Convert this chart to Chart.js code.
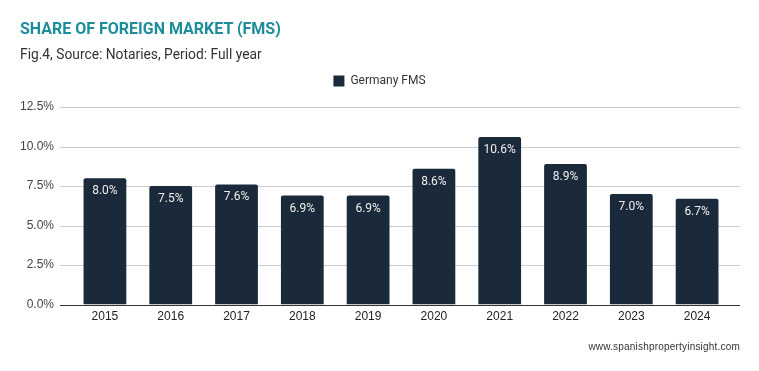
<!DOCTYPE html>
<html>
<head>
<meta charset="utf-8">
<script src="https://cdn.jsdelivr.net/npm/chart.js@4.4.0/dist/chart.umd.min.js"></script>
<style>
  body { margin: 0; background: #fff; }
  #wrap { position: relative; width: 759px; height: 371px; overflow: hidden; }
  #chart { position: absolute; left: 0; top: 0; }
  .title { position: absolute; left: 20px; top: 19px; font: bold 16px Roboto, sans-serif; color: #1e8d9b; }
  .sub { position: absolute; left: 20px; top: 46px; font: 13.8px Roboto, sans-serif; color: #333; }
  .site { position: absolute; right: 19px; top: 341px; font: 10px Arial, "Liberation Sans", sans-serif; color: #333; letter-spacing: 0.2px; }
</style>
</head>
<body>
<div id="wrap">
  <canvas id="chart" width="759" height="371"></canvas>
  <div class="title">SHARE OF FOREIGN MARKET (FMS)</div>
  <div class="sub">Fig.4, Source: Notaries, Period: Full year</div>
  <div class="site">www.spanishpropertyinsight.com</div>
</div>
<script>
// ===== data =====
const years = ['2015', '2016', '2017', '2018', '2019', '2020', '2021', '2022', '2023', '2024'];
const germanyFms = [8.0, 7.5, 7.6, 6.9, 6.9, 8.6, 10.6, 8.9, 7.0, 6.7];
const seriesName = 'Germany FMS';

// extra space under the legend, and centre it on the whole canvas
const legendTweak = {
  id: 'legendTweak',
  beforeInit(chart) {
    const fit = chart.legend.fit;
    chart.legend.fit = function () {
      fit.bind(chart.legend)();
      this.height += 10;
    };
  },
  afterLayout(chart) {
    const lg = chart.legend;
    const shift = chart.width / 2 - (lg.left + lg.right) / 2;
    lg.left += shift;
    lg.right += shift;
  }
};

// horizontal grid lines run a bit wider than the bars area
const wideGrid = {
  id: 'wideGrid',
  beforeDatasetsDraw(chart) {
    const { ctx, scales: { y } } = chart;
    ctx.save();
    y.ticks.forEach(t => {
      const py = Math.round(y.getPixelForValue(t.value)) + 0.5;
      ctx.strokeStyle = t.value === 0 ? '#333' : '#ccc';
      ctx.lineWidth = 1;
      ctx.beginPath();
      ctx.moveTo(60, py);
      ctx.lineTo(740, py);
      ctx.stroke();
    });
    ctx.restore();
  }
};

// value labels inside bar tops
const barLabels = {
  id: 'barLabels',
  afterDatasetsDraw(chart) {
    const { ctx } = chart;
    const meta = chart.getDatasetMeta(0);
    ctx.save();
    ctx.fillStyle = '#eee';
    ctx.font = '12px Roboto, sans-serif';
    ctx.textAlign = 'center';
    ctx.textBaseline = 'middle';
    meta.data.forEach((bar, i) => {
      ctx.fillText(germanyFms[i].toFixed(1) + '%', bar.x, bar.y + 13);
    });
    ctx.restore();
  }
};

new Chart(document.getElementById('chart'), {
  type: 'bar',
  data: {
    labels: years,
    datasets: [{
      label: seriesName,
      data: germanyFms,
      backgroundColor: '#1b2a3a',
      borderRadius: 2,
      borderSkipped: 'bottom',
      barPercentage: 0.65,
      categoryPercentage: 1
    }]
  },
  options: {
    responsive: false,
    animation: false,
    layout: { padding: { left: 2, right: 29, top: 65, bottom: 42 } },
    plugins: {
      legend: {
        display: true,
        position: 'top',
        labels: {
          boxWidth: 11, boxHeight: 11, padding: 10,
          color: '#333',
          font: { family: 'Roboto', size: 12 }
        }
      },
      tooltip: { enabled: false }
    },
    scales: {
      x: {
        grid: { display: false, drawTicks: false },
        border: { display: false },
        ticks: { color: '#222', padding: 5, font: { family: 'Arial, "Liberation Sans"', size: 12 } }
      },
      y: {
        min: 0, max: 12.5,
        grid: { display: false, drawTicks: false },
        border: { display: false },
        ticks: {
          stepSize: 2.5,
          padding: 18,
          color: '#444',
          font: { family: 'Arial, "Liberation Sans"', size: 12 },
          callback: v => v.toFixed(1) + '%'
        }
      }
    }
  },
  plugins: [legendTweak, wideGrid, barLabels]
});
</script>
</body>
</html>
